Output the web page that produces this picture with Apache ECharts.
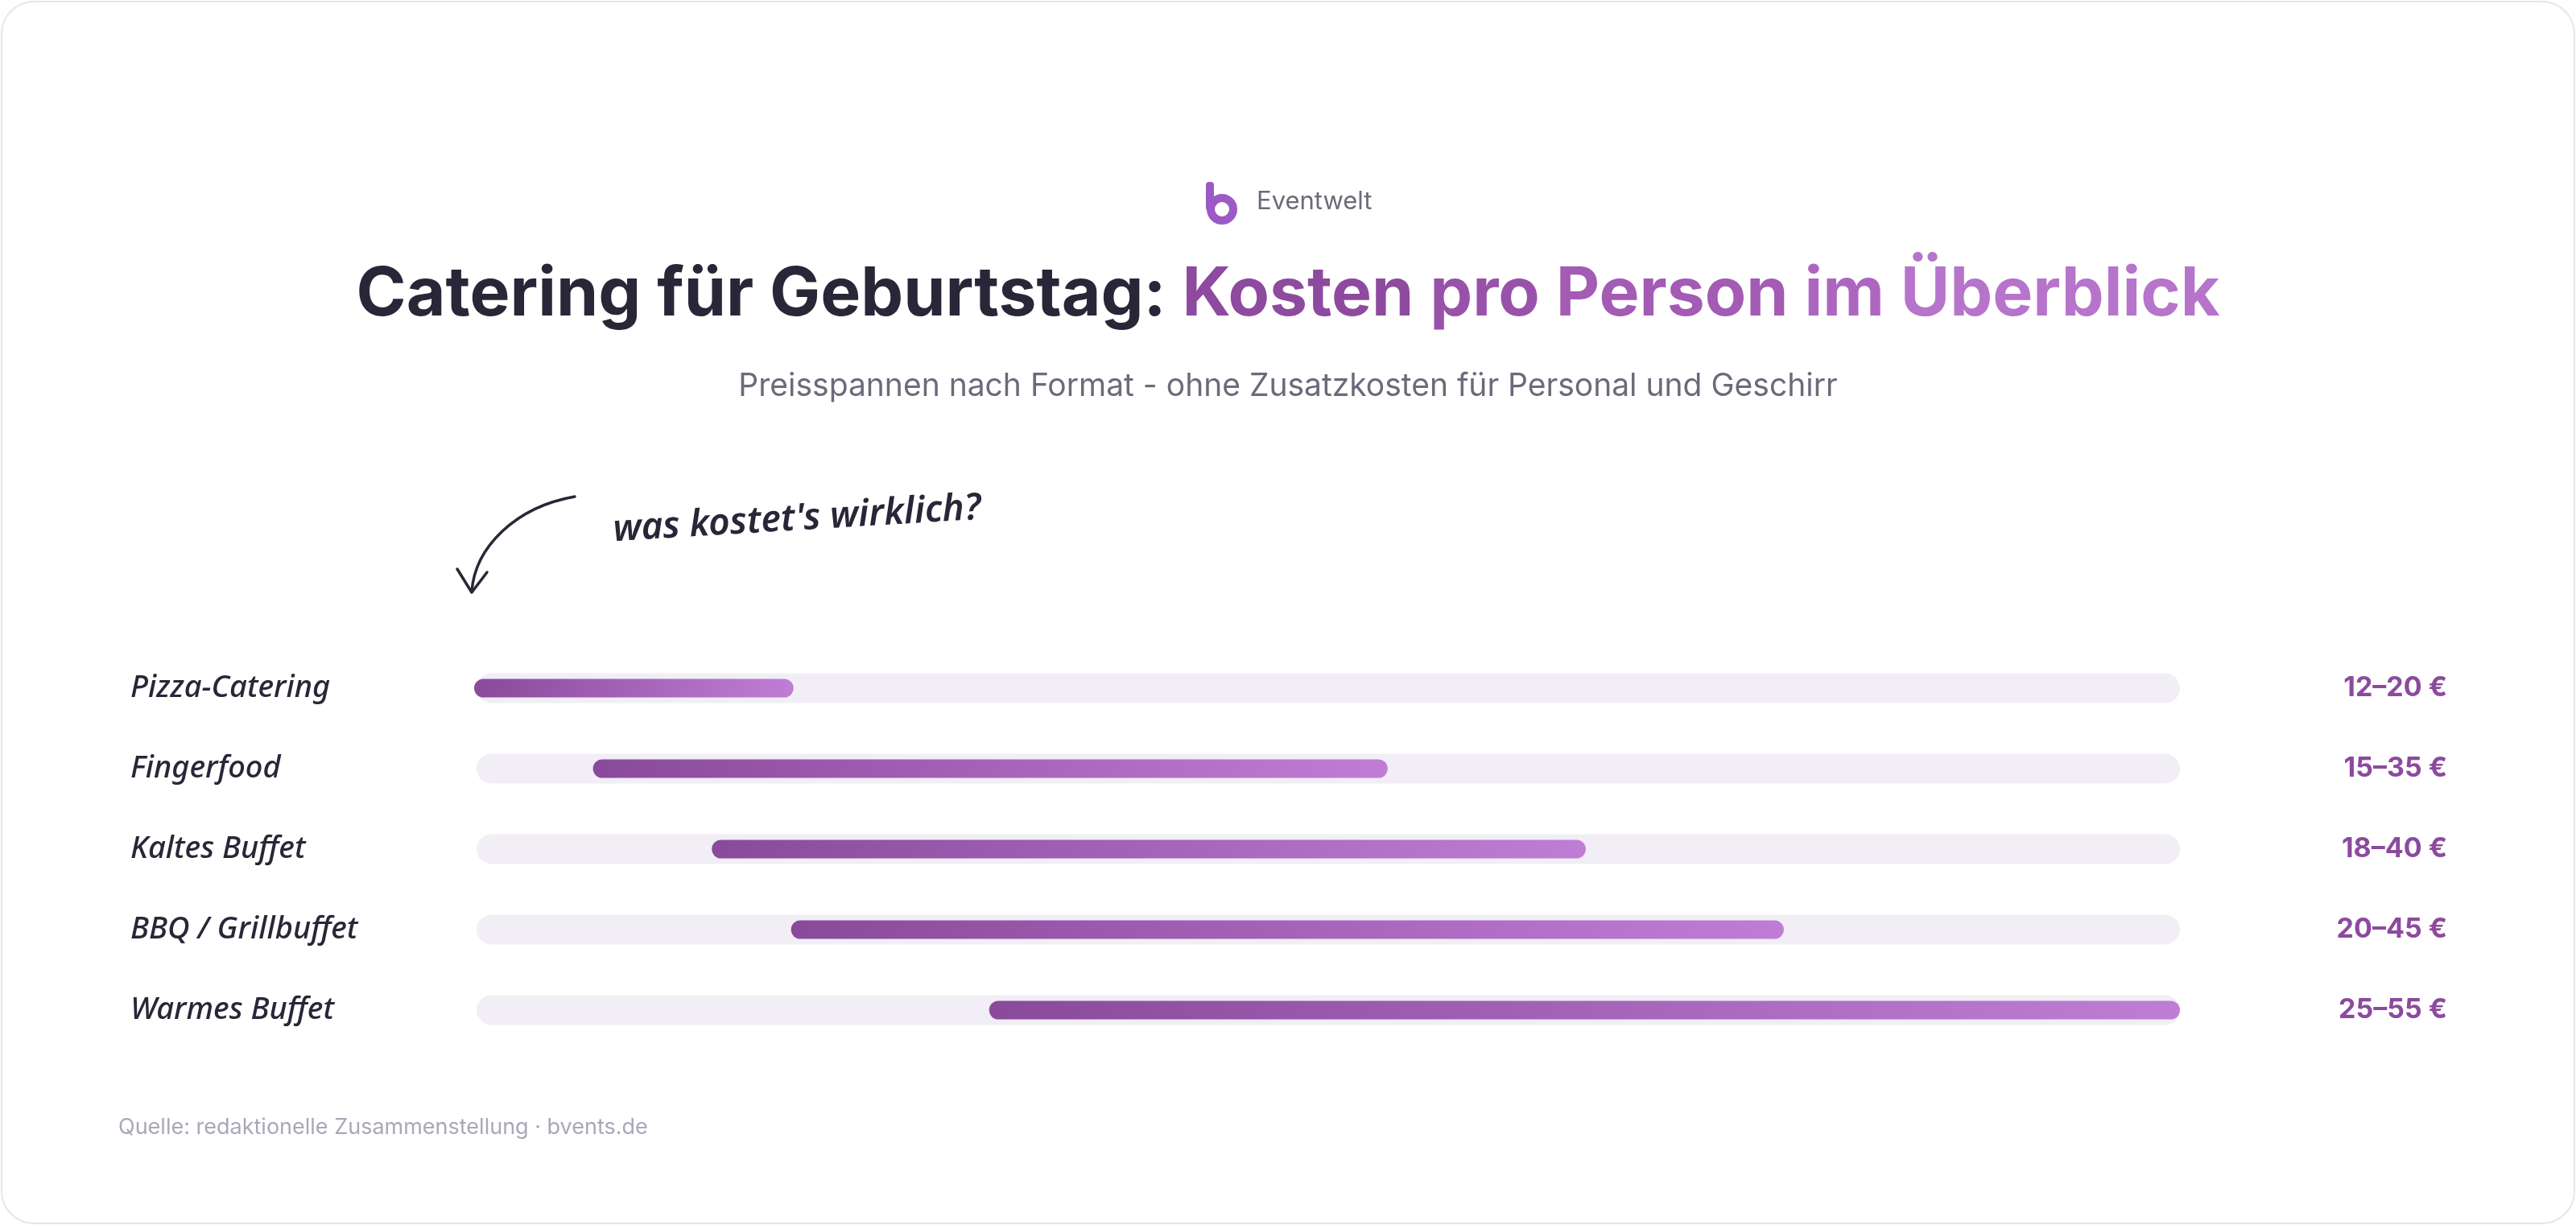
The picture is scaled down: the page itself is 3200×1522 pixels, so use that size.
<!DOCTYPE html>
<html>
<head>
<meta charset="utf-8">
<title>Catering für Geburtstag</title>
<script src="https://cdn.jsdelivr.net/npm/echarts@6/dist/echarts.min.js"></script>
<style>
html, body { margin: 0; padding: 0; background: #ffffff; }
#chart { width: 3200px; height: 1522px; }
</style>
</head>
<body>
<div id="chart"></div>
<script>
// Preisspannen pro Person (EUR)
var categories = ['Pizza-Catering', 'Fingerfood', 'Kaltes Buffet', 'BBQ / Grillbuffet', 'Warmes Buffet'];
var priceLow = [12, 15, 18, 20, 25];
var priceHigh = [20, 35, 40, 45, 55];
var axisMin = 12;
var axisMax = 55;

var rangeLabels = categories.map(function (c, i) {
    return priceLow[i] + '–' + priceHigh[i] + ' €';
});
var trackData = categories.map(function (c, i) {
    return [i, axisMin, axisMax];
});
var rangeData = categories.map(function (c, i) {
    return [i, priceLow[i], priceHigh[i]];
});

var dark = '#2a2638';
var purple = '#8c4a9e';
var grey = '#6c6a7a';

function renderTrack(params, api) {
    var start = api.coord([api.value(1), api.value(0)]);
    var end = api.coord([api.value(2), api.value(0)]);
    var h = 37;
    return {
        type: 'rect',
        shape: { x: start[0], y: start[1] - h / 2, width: end[0] - start[0], height: h, r: h / 2 },
        style: { fill: '#f1eef6' }
    };
}

function renderRange(params, api) {
    var start = api.coord([api.value(1), api.value(0)]);
    var end = api.coord([api.value(2), api.value(0)]);
    var h = 23;
    return {
        type: 'rect',
        shape: { x: start[0] - 3, y: start[1] - h / 2, width: end[0] - start[0] + 3, height: h, r: h / 2 },
        style: {
            fill: new echarts.graphic.LinearGradient(0, 0, 1, 0, [
                { offset: 0, color: '#8a4a9b' },
                { offset: 1, color: '#c07dd5' }
            ])
        }
    };
}

// title word colours (left to right fade)
function titleWord(color) {
    return { fill: color, fontFamily: 'Inter', fontWeight: 700, fontSize: 84 };
}

var option = {
    backgroundColor: '#ffffff',
    animation: false,
    grid: {
        left: 592,
        right: 492,
        top: 805,
        height: 500
    },
    xAxis: {
        type: 'value',
        min: axisMin,
        max: axisMax,
        show: false
    },
    yAxis: [
        {
            type: 'category',
            data: categories,
            inverse: true,
            axisLine: { show: false },
            axisTick: { show: false },
            axisLabel: {
                align: 'left',
                margin: 430,
                fontFamily: 'Noto Sans',
                fontStyle: 'italic',
                fontWeight: 500,
                fontSize: 38,
                color: dark
            }
        },
        {
            type: 'category',
            data: rangeLabels,
            inverse: true,
            position: 'right',
            axisLine: { show: false },
            axisTick: { show: false },
            axisLabel: {
                align: 'right',
                margin: 332,
                fontFamily: 'Inter',
                fontWeight: 700,
                fontSize: 34,
                color: purple
            }
        }
    ],
    series: [
        {
            name: 'Spanne',
            type: 'custom',
            renderItem: renderTrack,
            encode: { x: [1, 2], y: 0 },
            data: trackData,
            silent: true,
            z: 1
        },
        {
            name: 'Preis',
            type: 'custom',
            renderItem: renderRange,
            encode: { x: [1, 2], y: 0 },
            data: rangeData,
            z: 2
        }
    ],
    graphic: [
        {
            type: 'rect',
            shape: { x: 2, y: 2, width: 3196, height: 1518, r: 40 },
            style: { fill: 'none', stroke: '#e6e5ee', lineWidth: 2 },
            z: -10
        },
        // logo
        {
            type: 'rect',
            shape: { x: 1498, y: 226, width: 10, height: 36, r: 4 },
            style: { fill: '#9b5ac6' }
        },
        {
            type: 'circle',
            shape: { cx: 1518, cy: 260, r: 14 },
            style: { fill: 'none', stroke: '#9b5ac6', lineWidth: 10 }
        },
        {
            type: 'text',
            x: 1561,
            y: 251,
            style: {
                text: 'Eventwelt',
                fill: grey,
                fontFamily: 'Inter',
                fontSize: 31,
                align: 'left',
                verticalAlign: 'middle'
            }
        },
        // title
        {
            type: 'text',
            x: 1600,
            y: 367,
            style: {
                text: '{a|Catering für Geburtstag: }{b1|Kosten }{b2|pro }{b3|Person }{b4|im }{b5|Überblick}',
                align: 'center',
                verticalAlign: 'middle',
                rich: {
                    a: titleWord(dark),
                    b1: titleWord('#8e4a9f'),
                    b2: titleWord('#9952a9'),
                    b3: titleWord('#a35bb4'),
                    b4: titleWord('#ad66c0'),
                    b5: titleWord('#b674cb')
                }
            }
        },
        {
            type: 'text',
            x: 1600,
            y: 480,
            style: {
                text: 'Preisspannen nach Format - ohne Zusatzkosten für Personal und Geschirr',
                fill: grey,
                fontFamily: 'Inter',
                fontSize: 39,
                align: 'center',
                verticalAlign: 'middle'
            }
        },
        // annotation
        {
            type: 'text',
            x: 763,
            y: 682,
            rotation: 0.06,
            style: {
                text: "was kostet's wirklich?",
                fill: dark,
                fontFamily: 'Noto Sans',
                fontStyle: 'italic',
                fontWeight: 600,
                fontSize: 46,
                align: 'left',
                verticalAlign: 'bottom'
            }
        },
        {
            type: 'bezierCurve',
            shape: { x1: 714, y1: 617, cpx1: 640, cpy1: 630, cpx2: 590, cpy2: 680, x2: 586, y2: 735 },
            style: { fill: 'none', stroke: dark, lineWidth: 3.5, lineCap: 'round' }
        },
        {
            type: 'polyline',
            shape: { points: [[568, 707], [586, 736], [605, 711]] },
            style: { fill: 'none', stroke: dark, lineWidth: 3.5, lineCap: 'round', lineJoin: 'round' }
        },
        // footer
        {
            type: 'text',
            x: 147,
            y: 1401,
            style: {
                text: 'Quelle: redaktionelle Zusammenstellung · bvents.de',
                fill: '#a9a8b8',
                fontFamily: 'Inter',
                fontSize: 27,
                align: 'left',
                verticalAlign: 'middle'
            }
        }
    ]
};

var chart = echarts.init(document.getElementById('chart'));
chart.setOption(option);
</script>
</body>
</html>
